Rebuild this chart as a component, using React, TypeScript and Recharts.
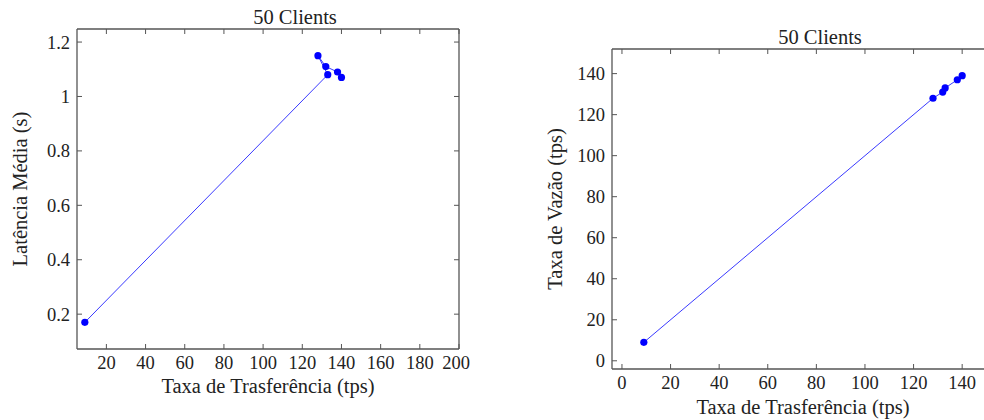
import React from 'react';
import { LineChart, Line, XAxis, YAxis } from 'recharts';

// 50 clients: latency vs transfer rate
const latencyRate = [9, 133, 128, 132, 138, 140];
const latencyValues = [0.17, 1.08, 1.15, 1.11, 1.09, 1.07];

// 50 clients: throughput vs transfer rate
const vazaoRate = [9, 128, 132, 133, 138, 140];
const vazaoValues = [9, 128, 131, 133, 137, 139];

const latencyXTicks = [20, 40, 60, 80, 100, 120, 140, 160, 180, 200];
const latencyYTicks = [0.2, 0.4, 0.6, 0.8, 1, 1.2];
const vazaoXTicks = [0, 20, 40, 60, 80, 100, 120, 140];
const vazaoYTicks = [0, 20, 40, 60, 80, 100, 120, 140];

const FONT = '"Liberation Serif", "DejaVu Serif", serif';
const AXIS = '#555';
const TEXT = '#222';
const BLUE = '#0000ff';

const latencyData = latencyRate.map((x, i) => ({ x, y: latencyValues[i] }));
const vazaoData = vazaoRate.map((x, i) => ({ x, y: vazaoValues[i] }));

const tickStyle = { fontSize: 18.5, fill: TEXT, fontFamily: FONT };
const labelStyle = { fontSize: 20.5, fill: TEXT, fontFamily: FONT };
const axisLine = { stroke: AXIS, strokeWidth: 1.3 };
const tickLine = { stroke: AXIS, strokeWidth: 1 };
const blank = () => '';

const Title: React.FC<{ left: number; top: number }> = ({ left, top }) => (
  <div
    style={{
      position: 'absolute',
      left,
      top,
      transform: 'translateX(-50%)',
      fontFamily: FONT,
      fontSize: 20.5,
      lineHeight: '22px',
      color: TEXT,
      whiteSpace: 'nowrap',
    }}
  >
    50 Clients
  </div>
);

interface PanelProps {
  data: { x: number; y: number }[];
  width: number;
  height: number;
  margin: { top: number; right: number; bottom: number; left: number };
  xDomain: [number, number];
  yDomain: [number, number];
  xTicks: number[];
  yTicks: number[];
  yAxisWidth: number;
  xAxisHeight: number;
  yLabel: string;
  yLabelOffset: number;
}

const Panel: React.FC<PanelProps> = (p) => (
  <LineChart width={p.width} height={p.height} data={p.data} margin={p.margin}>
    <XAxis
      dataKey="x"
      type="number"
      domain={p.xDomain}
      ticks={p.xTicks}
      allowDataOverflow
      height={p.xAxisHeight}
      tickSize={0}
      tickMargin={7}
      tick={tickStyle}
      axisLine={axisLine}
      tickLine={false}
      label={{
        value: 'Taxa de Trasferência (tps)',
        position: 'insideBottom',
        offset: 0,
        style: labelStyle,
      }}
    />
    {/* inward tick marks on all four sides */}
    <XAxis
      xAxisId="bottomTicks"
      dataKey="x"
      type="number"
      orientation="bottom"
      mirror
      domain={p.xDomain}
      ticks={p.xTicks}
      allowDataOverflow
      height={1}
      tickSize={5}
      tickFormatter={blank}
      axisLine={false}
      tickLine={tickLine}
    />
    <XAxis
      xAxisId="top"
      dataKey="x"
      type="number"
      orientation="top"
      mirror
      domain={p.xDomain}
      ticks={p.xTicks}
      allowDataOverflow
      height={1}
      tickSize={5}
      tickFormatter={blank}
      axisLine={axisLine}
      tickLine={tickLine}
    />
    <YAxis
      type="number"
      domain={p.yDomain}
      ticks={p.yTicks}
      allowDataOverflow
      width={p.yAxisWidth}
      tickSize={0}
      tickMargin={7}
      tick={tickStyle}
      tickFormatter={(v: number) => String(v)}
      axisLine={axisLine}
      tickLine={false}
      label={{
        value: p.yLabel,
        angle: -90,
        position: 'insideLeft',
        offset: p.yLabelOffset,
        style: { ...labelStyle, textAnchor: 'middle' },
      }}
    />
    <YAxis
      yAxisId="leftTicks"
      type="number"
      orientation="left"
      mirror
      domain={p.yDomain}
      ticks={p.yTicks}
      allowDataOverflow
      width={1}
      tickSize={5}
      tickFormatter={blank}
      axisLine={false}
      tickLine={tickLine}
    />
    <YAxis
      yAxisId="right"
      type="number"
      orientation="right"
      mirror
      domain={p.yDomain}
      ticks={p.yTicks}
      allowDataOverflow
      width={1}
      tickSize={5}
      tickFormatter={blank}
      axisLine={axisLine}
      tickLine={tickLine}
    />
    <Line
      dataKey="y"
      type="linear"
      stroke="#3a3aff"
      strokeWidth={1}
      dot={{ r: 3.6, fill: BLUE, stroke: BLUE, strokeWidth: 0 }}
      isAnimationActive={false}
    />
  </LineChart>
);

export default function App() {
  return (
    <div
      style={{
        position: 'absolute',
        left: 0,
        top: 0,
        width: 984,
        height: 420,
        overflow: 'hidden',
        background: '#fff',
        fontFamily: FONT,
      }}
    >
      <div style={{ position: 'absolute', left: 0, top: 0 }}>
        <Panel
          data={latencyData}
          width={470}
          height={420}
          margin={{ top: 29, right: 11, bottom: 27, left: 0 }}
          xDomain={[5, 200]}
          yDomain={[0.072, 1.248]}
          xTicks={latencyXTicks}
          yTicks={latencyYTicks}
          yAxisWidth={77}
          xAxisHeight={44}
          yLabel="Latência Média (s)"
          yLabelOffset={20}
        />
      </div>
      <Title left={295} top={6} />
      <div style={{ position: 'absolute', left: 490, top: 0 }}>
        <Panel
          data={vazaoData}
          width={520}
          height={420}
          margin={{ top: 49, right: 16, bottom: 6, left: 0 }}
          xDomain={[-4.1, 153.1]}
          yDomain={[-4, 152]}
          xTicks={vazaoXTicks}
          yTicks={vazaoYTicks}
          yAxisWidth={122}
          xAxisHeight={45}
          yLabel="Taxa de Vazão (tps)"
          yLabelOffset={65}
        />
      </div>
      <Title left={820} top={26} />
    </div>
  );
}
